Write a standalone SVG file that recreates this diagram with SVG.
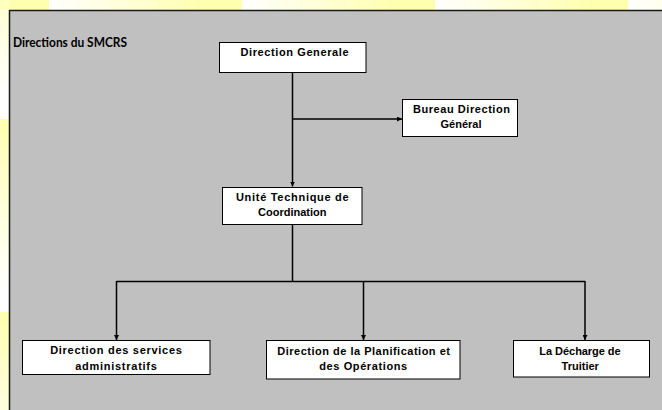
<svg xmlns="http://www.w3.org/2000/svg" width="662" height="410" viewBox="0 0 662 410">
<defs>
<linearGradient id="gh" x1="0" y1="0" x2="1" y2="0">
<stop offset="0" stop-color="#ffffff"/>
<stop offset="0.8" stop-color="#ffffb0"/>
<stop offset="1" stop-color="#ffffb0"/>
</linearGradient>
<linearGradient id="gv" x1="0" y1="0" x2="0" y2="1">
<stop offset="0" stop-color="#ffffb0"/>
<stop offset="0.86" stop-color="#ffffff"/>
<stop offset="1" stop-color="#ffffff"/>
</linearGradient>
<marker id="ah" viewBox="0 0 10 10" refX="10" refY="5" markerWidth="5" markerHeight="5" markerUnits="userSpaceOnUse" orient="auto">
<path d="M0,0 L10,5 L0,10 Z" fill="#000"/>
</marker>
</defs>
<style>
.box{fill:#ffffff;stroke:#000;stroke-width:1}
.t{font-family:"Liberation Sans",Arial,sans-serif;font-weight:bold;font-size:11px;fill:#000;text-anchor:middle}
.title{font-family:"Lato","Liberation Sans",sans-serif;font-weight:bold;font-size:13px;fill:#000}
.c{fill:none;stroke:#000;stroke-width:1.5}
</style>
<rect x="0" y="0" width="662" height="410" fill="#ffffff"/>
<rect x="0" y="0" width="49" height="10" fill="#ffffb0"/>
<rect x="49" y="0" width="193" height="10" fill="url(#gh)"/>
<rect x="242" y="0" width="193" height="10" fill="url(#gh)"/>
<rect x="435" y="0" width="193" height="10" fill="url(#gh)"/>
<rect x="628" y="0" width="193" height="10" fill="url(#gh)"/>
<rect x="0" y="-74" width="10" height="193" fill="url(#gv)"/>
<rect x="0" y="119" width="10" height="193" fill="url(#gv)"/>
<rect x="0" y="312" width="10" height="193" fill="url(#gv)"/>
<rect x="0" y="0" width="49" height="10" fill="#ffffb0" opacity="0.6"/>
<rect x="9.5" y="10.5" width="660" height="410" fill="#c0c0c0" stroke="#1a1a1a" stroke-width="1.5"/>
<text class="title" x="13" y="46.5" textLength="114" lengthAdjust="spacingAndGlyphs">Directions du SMCRS</text>
<g id="connectors">
<path class="c" d="M292.5,72.5 V186.5" marker-end="url(#ah)"/>
<path class="c" d="M292.5,119 H402" marker-end="url(#ah)"/>
<path class="c" d="M292.5,224.5 V281.5"/>
<path class="c" d="M116.5,281.5 H585"/>
<path class="c" d="M116.5,281 V340" marker-end="url(#ah)"/>
<path class="c" d="M363.5,281 V340" marker-end="url(#ah)"/>
<path class="c" d="M585,281 V340" marker-end="url(#ah)"/>
</g>
<g id="direction-generale">
<rect class="box" x="219.5" y="42.5" width="146.5" height="30"/>
<text class="t" x="294.5" y="56" textLength="108" lengthAdjust="spacing">Direction Generale</text>
</g>
<g id="bureau-direction">
<rect class="box" x="402.5" y="99.5" width="115" height="37"/>
<text class="t" x="461.5" y="113.3" textLength="97" lengthAdjust="spacing">Bureau Direction</text>
<text class="t" x="461" y="128.3">Général</text>
</g>
<g id="unite-technique">
<rect class="box" x="222.5" y="187.5" width="139.5" height="37"/>
<text class="t" x="292.3" y="200.7" textLength="112.7" lengthAdjust="spacing">Unité Technique de</text>
<text class="t" x="292.3" y="216">Coordination</text>
</g>
<g id="direction-services-administratifs">
<rect class="box" x="22.5" y="340.5" width="187.5" height="34"/>
<text class="t" x="116" y="354.3" textLength="131.7" lengthAdjust="spacing">Direction des services</text>
<text class="t" x="116" y="370" textLength="81.7" lengthAdjust="spacing">administratifs</text>
</g>
<g id="direction-planification">
<rect class="box" x="266.5" y="340.5" width="193.5" height="38.5"/>
<text class="t" x="363.6" y="355" textLength="172.7" lengthAdjust="spacing">Direction de la Planification et</text>
<text class="t" x="363.2" y="370" textLength="88" lengthAdjust="spacing">des Opérations</text>
</g>
<g id="decharge-truitier">
<rect class="box" x="513.5" y="340.5" width="136" height="36.5"/>
<text class="t" x="580" y="355" textLength="81.3" lengthAdjust="spacing">La Décharge de</text>
<text class="t" x="580.2" y="370">Truitier</text>
</g>
</svg>
